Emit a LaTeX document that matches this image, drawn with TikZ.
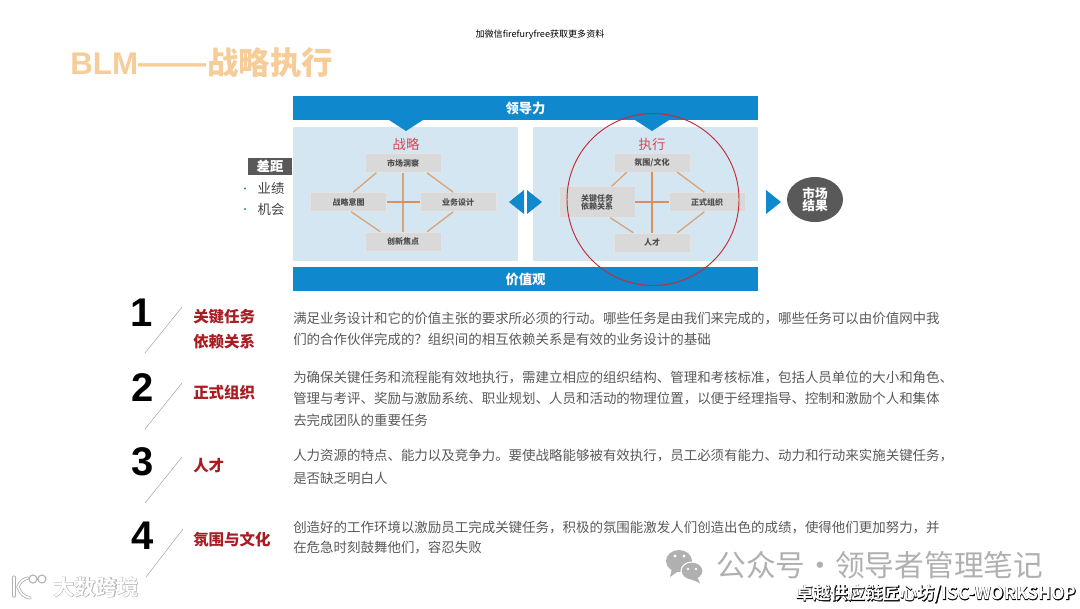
\documentclass[tikz,border=0pt]{standalone}
\usepackage{fontspec}
\setmainfont{Noto Sans CJK SC}
\newfontfamily\numfont{Liberation Sans}
\newfontfamily\wmfont[FakeBold=3]{Noto Sans CJK SC Bold}
\usetikzlibrary{shapes.geometric}
\definecolor{barblue}{HTML}{0F88CE}
\definecolor{panelblue}{HTML}{D5E6F3}
\definecolor{boxgrey}{HTML}{D9D9D9}
\definecolor{linktan}{HTML}{DBA478}
\definecolor{linkorange}{HTML}{DE8F58}
\definecolor{darkgrey}{HTML}{595959}
\definecolor{labelred}{HTML}{A81C22}
\definecolor{headred}{HTML}{DB4650}
\definecolor{ringred}{HTML}{C62A32}
\definecolor{titleorange}{HTML}{F6CC98}
\definecolor{wmgrey}{HTML}{B0B0B0}
\newcommand{\fsize}[1]{\fontsize{#1}{#1}\selectfont}
\tikzset{
	bar/.style={fill=barblue,text=white,font=\fsize{10pt}\bfseries,minimum width=348.75pt,minimum height=18pt,inner sep=0pt},
	panel/.style={fill=panelblue,minimum width=169pt,minimum height=100.5pt,inner sep=0pt},
	stratbox/.style={fill=boxgrey,draw=boxgrey!70!white,text=black!70,font=\fsize{6pt}\bfseries,minimum width=57pt,minimum height=14.25pt,inner sep=0pt,align=center},
	link/.style={draw=linktan,line width=1pt},
	head/.style={text=headred,font=\fsize{10pt},inner sep=0pt},
	bignum/.style={font=\numfont\bfseries\fsize{30pt},inner sep=0pt},
	slash/.style={draw=black!35,line width=0.4pt},
	rowlabel/.style={anchor=west,text=labelred,font=\fsize{11.6pt}\bfseries,inner sep=0pt},
	rowtext/.style={anchor=west,text=darkgrey,font=\fsize{10.1pt},inner sep=0pt},
	tip/.style={fill=barblue,draw=none}
}
\begin{document}
\begin{tikzpicture}[x=0.75pt,y=-0.75pt]
	\useasboundingbox (0,0) rectangle (1080,608);
	\node[inner sep=0pt,font=\fsize{6.8pt}] (note) at (540,35) {加微信firefuryfree获取更多资料};
	\node[anchor=west,inner sep=0pt,text=titleorange,font=\fsize{23.5pt}\bfseries] (title) at (70,63) {{\numfont BLM\fsize{25.5pt}——}\hspace{1pt}战略执行};

	\node[bar] (lead) at (525.5,108) {领导力};
	\node[bar] (values) at (525.5,279) {价值观};
	\node[panel] (stratpanel) at (405.75,194) {};
	\node[panel] (execpanel) at (645.25,194) {};
	\fill[tip] (389,120) -- (423,120) -- (406,131) -- cycle;
	\fill[tip] (635,120) -- (669,120) -- (652,131) -- cycle;
	\node[head] (strat) at (406,144) {战略};
	\node[head] (exec) at (652,144) {执行};

	\node[stratbox] (market) at (403,163) {市场洞察};
	\node[stratbox] (intent) at (348.5,202) {战略意图};
	\node[stratbox] (design) at (458,202) {业务设计};
	\node[stratbox] (innov) at (403,241.5) {创新焦点};
	\draw[link] ([xshift=-20pt]market.south) -- ([xshift=3.5pt]intent.north);
	\draw[link] ([xshift=18pt]market.south) -- ([xshift=-3.5pt]design.north);
	\draw[link] ([xshift=2pt]intent.south) -- ([xshift=-17pt]innov.north);
	\draw[link] ([xshift=-3.5pt]design.south) -- ([xshift=18pt]innov.north);
	\draw[link] (market) -- (innov);
	\draw[link,draw=linkorange] (intent.east) -- (design.west);

	\node[stratbox] (climate) at (652,162.5) {氛围/文化};
	\node[stratbox,minimum height=23.25pt] (tasks) at (597,202) {关键任务\\依赖关系};
	\node[stratbox] (formal) at (707,202) {正式组织};
	\node[stratbox] (talent) at (652,242.5) {人才};
	\draw[link] ([xshift=-19pt]climate.south) -- ([xshift=11pt]tasks.north);
	\draw[link] ([xshift=19pt]climate.south) -- ([xshift=-2pt]formal.north);
	\draw[link] ([xshift=10pt]tasks.south) -- ([xshift=-14pt]talent.north);
	\draw[link] ([xshift=-2pt]formal.south) -- ([xshift=19pt]talent.north);
	\draw[link,draw=linkorange] (climate) -- (talent);
	\draw[link,draw=linkorange] (tasks.east) -- (formal.west);

	\draw[draw=ringred,line width=0.7pt] (653,199.5) circle (86);

	\fill[tip] (524,190) -- (524,214) -- (509,202) -- cycle;
	\fill[tip] (527,190) -- (527,214) -- (542,202) -- cycle;
	\fill[tip] (766,190) -- (766,214) -- (781,202) -- cycle;
	\node[ellipse,fill=darkgrey,text=white,font=\fsize{9.5pt}\bfseries,minimum width=42pt,minimum height=33.75pt,inner sep=0pt,align=center,line width=0pt] (result) at (815,199.5) {市场\\结果};

	\node[fill=darkgrey,text=white,font=\fsize{10pt}\bfseries,minimum width=33pt,minimum height=12.75pt,inner sep=0pt] (gap) at (270,166.5) {差距};
	\node[inner sep=0pt,font=\fsize{10pt},text=black!75] (perf) at (271,188) {业绩};
	\node[inner sep=0pt,font=\fsize{10pt},text=black!75] (chance) at (271,209) {机会};
	\fill[barblue] (245,188.5) circle (1.2);
	\fill[barblue] (245,209) circle (1.2);

	\node[bignum] (one) at (142,313) {1};
	\node[bignum] (two) at (143,388) {2};
	\node[bignum] (three) at (143,462) {3};
	\node[bignum] (four) at (143,536) {4};
	\draw[slash] (182,307) -- (145,353);
	\draw[slash] (182,383) -- (145,429);
	\draw[slash] (182,457) -- (145,503);
	\draw[slash] (183,529) -- (146,577);

	\node[rowlabel] (tasksa) at (193,317) {关键任务};
	\node[rowlabel] (tasksb) at (193,342) {依赖关系};
	\node[rowlabel] (formala) at (193,393) {正式组织};
	\node[rowlabel] (talenta) at (193,466) {人才};
	\node[rowlabel] (climatea) at (193,540) {氛围与文化};

	\node[rowtext] (ta) at (293,318) {满足业务设计和它的价值主张的要求所必须的行动。哪些任务是由我们来完成的，哪些任务可以由价值网中我};
	\node[rowtext] (tb) at (293,339) {们的合作伙伴完成的？组织间的相互依赖关系是有效的业务设计的基础};
	\node[rowtext] (fa) at (293,377) {为确保关键任务和流程能有效地执行，需建立相应的组织结构、管理和考核标准，包括人员单位的大小和角色、};
	\node[rowtext] (fb) at (293,399) {管理与考评、奖励与激励系统、职业规划、人员和活动的物理位置，以便于经理指导、控制和激励个人和集体};
	\node[rowtext] (fc) at (293,420) {去完成团队的重要任务};
	\node[rowtext] (pa) at (293,456) {人力资源的特点、能力以及竞争力。要使战略能够被有效执行，员工必须有能力、动力和行动来实施关键任务，};
	\node[rowtext] (pb) at (293,478) {是否缺乏明白人};
	\node[rowtext] (ca) at (293,527) {创造好的工作环境以激励员工完成关键任务，积极的氛围能激发人们创造出色的成绩，使得他们更加努力，并};
	\node[rowtext] (cb) at (293,548) {在危急时刻鼓舞他们，容忍失败};

	\fill[wmgrey] (679,561) ellipse (13 and 11);
	\fill[wmgrey] (672,568) -- (670,577) -- (680,570) -- cycle;
	\filldraw[fill=wmgrey,draw=white,line width=0.8pt] (692,571) ellipse (11 and 9);
	\fill[wmgrey] (697,577) -- (700,583) -- (690,579) -- cycle;
	\fill[white] (675,556) circle (1.6) (684,556) circle (1.6) (688,569) circle (1.3) (696,569) circle (1.3);
	\node[anchor=west,inner sep=0pt,text=wmgrey,font=\fsize{22.3pt}] (wechat) at (716,565) {公众号·领导者管理笔记};

	\node[anchor=west,inner sep=0pt,font=\wmfont\fsize{13pt},text=black] (isca) at (796,594) {卓越供应链匠心坊/ISC-WORKSHOP};
	\node[anchor=west,inner sep=0pt,font=\fontspec{Noto Sans CJK SC Bold}\fsize{13pt},text=white] (iscb) at (796,594) {卓越供应链匠心坊/ISC-WORKSHOP};

	\node[anchor=west,inner sep=0pt,font=\wmfont\fsize{16pt},text=wmgrey] (cbeca) at (53,587) {大数跨境};
	\node[anchor=west,inner sep=0pt,font=\fontspec{Noto Sans CJK SC Bold}\fsize{16pt},text=white] (cbecb) at (53,587) {大数跨境};
	\draw[wmgrey,line width=2.4pt,line cap=round] (14,577) -- (14,596);
	\draw[wmgrey,line width=2.4pt,line cap=round] (28,578) to [bend right=30] (18,587) to [bend right=30] (30,598);
	\draw[white,line width=1.2pt,line cap=round] (14,577) -- (14,596);
	\draw[white,line width=1.2pt,line cap=round] (28,578) to [bend right=30] (18,587) to [bend right=30] (30,598);
	\draw[wmgrey,line width=0.8pt] (33,579) circle (4) (42,579) circle (4);
\end{tikzpicture}
\end{document}
